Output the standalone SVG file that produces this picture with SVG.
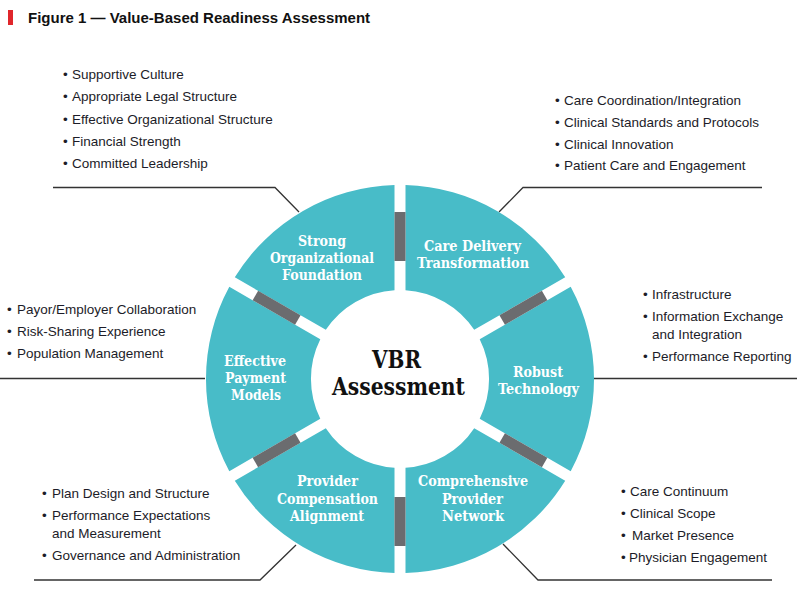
<svg xmlns="http://www.w3.org/2000/svg" width="800" height="599" viewBox="0 0 800 599">
<style>
.seg{fill:#48bcc8}
.bar{fill:#6b6c6f}
.lbl{font-family:"DejaVu Serif","Liberation Serif",serif;font-weight:bold;font-size:15px;fill:#ffffff}
.ctr{font-family:"DejaVu Serif","Liberation Serif",serif;font-weight:bold;font-size:25px;fill:#111111}
.li{font-family:"Liberation Sans",Arial,sans-serif;font-size:13.5px;fill:#1c1c28}
.ttl{font-family:"Liberation Sans",Arial,sans-serif;font-weight:bold;font-size:15px;fill:#111111}
.ld{fill:none;stroke:#333333;stroke-width:1.3}
</style>
<rect width="800" height="599" fill="#ffffff"/>
<g id="title">
<rect x="8" y="10" width="5" height="15" fill="#e0262b"/>
<text class="ttl" x="28" y="23">Figure 1 — Value-Based Readiness Assessment</text>
</g>
<g id="connectors">
<polyline class="ld" points="53,187.5 275,187.5 299,212"/>
<polyline class="ld" points="762,187.5 523,187.5 499,212"/>
<polyline class="ld" points="0,378.5 205,378.5"/>
<polyline class="ld" points="593,378.5 797,378.5"/>
<polyline class="ld" points="34,580 260,580 296,545"/>
<polyline class="ld" points="772,580 538,580 503,544"/>
</g>
<g id="seg-strong">
<path class="seg" d="M394.5,185.1 A194,194 0 0 0 234.8,277.3 L325.8,329.8 A89,89 0 0 1 394.5,290.2 Z"/>
<text class="lbl" x="298" y="246" textLength="48" lengthAdjust="spacingAndGlyphs">Strong</text>
<text class="lbl" x="270" y="263" textLength="104" lengthAdjust="spacingAndGlyphs">Organizational</text>
<text class="lbl" x="282" y="280" textLength="80" lengthAdjust="spacingAndGlyphs">Foundation</text>
</g>
<g id="seg-care">
<path class="seg" d="M565.2,277.3 A194,194 0 0 0 405.5,185.1 L405.5,290.2 A89,89 0 0 1 474.2,329.8 Z"/>
<text class="lbl" x="424" y="251" textLength="97" lengthAdjust="spacingAndGlyphs">Care Delivery</text>
<text class="lbl" x="417" y="268" textLength="112" lengthAdjust="spacingAndGlyphs">Transformation</text>
</g>
<g id="seg-payment">
<path class="seg" d="M229.3,286.8 A194,194 0 0 0 229.3,471.2 L320.3,418.7 A89,89 0 0 1 320.3,339.3 Z"/>
<text class="lbl" x="224" y="366" textLength="62" lengthAdjust="spacingAndGlyphs">Effective</text>
<text class="lbl" x="225" y="383" textLength="61" lengthAdjust="spacingAndGlyphs">Payment</text>
<text class="lbl" x="231" y="400" textLength="50" lengthAdjust="spacingAndGlyphs">Models</text>
</g>
<g id="seg-technology">
<path class="seg" d="M570.7,471.2 A194,194 0 0 0 570.7,286.8 L479.7,339.3 A89,89 0 0 1 479.7,418.7 Z"/>
<text class="lbl" x="513" y="377" textLength="50" lengthAdjust="spacingAndGlyphs">Robust</text>
<text class="lbl" x="498" y="394" textLength="81" lengthAdjust="spacingAndGlyphs">Technology</text>
</g>
<g id="seg-compensation">
<path class="seg" d="M234.8,480.7 A194,194 0 0 0 394.5,572.9 L394.5,467.8 A89,89 0 0 1 325.8,428.2 Z"/>
<text class="lbl" x="297" y="486" textLength="61" lengthAdjust="spacingAndGlyphs">Provider</text>
<text class="lbl" x="277" y="504" textLength="101" lengthAdjust="spacingAndGlyphs">Compensation</text>
<text class="lbl" x="290" y="521" textLength="74" lengthAdjust="spacingAndGlyphs">Alignment</text>
</g>
<g id="seg-network">
<path class="seg" d="M405.5,572.9 A194,194 0 0 0 565.2,480.7 L474.2,428.2 A89,89 0 0 1 405.5,467.8 Z"/>
<text class="lbl" x="418" y="486" textLength="110" lengthAdjust="spacingAndGlyphs">Comprehensive</text>
<text class="lbl" x="442" y="504" textLength="61" lengthAdjust="spacingAndGlyphs">Provider</text>
<text class="lbl" x="442" y="521" textLength="62" lengthAdjust="spacingAndGlyphs">Network</text>
</g>
<g id="bars">
<rect class="bar" x="394.5" y="212" width="11" height="49"/>
<rect class="bar" x="394.5" y="212" width="11" height="49" transform="rotate(60 400 379)"/>
<rect class="bar" x="394.5" y="212" width="11" height="49" transform="rotate(120 400 379)"/>
<rect class="bar" x="394.5" y="212" width="11" height="49" transform="rotate(180 400 379)"/>
<rect class="bar" x="394.5" y="212" width="11" height="49" transform="rotate(240 400 379)"/>
<rect class="bar" x="394.5" y="212" width="11" height="49" transform="rotate(300 400 379)"/>
</g>
<g id="center">
<text class="ctr" x="372" y="368" textLength="49" lengthAdjust="spacingAndGlyphs">VBR</text>
<text class="ctr" x="332" y="395" textLength="133" lengthAdjust="spacingAndGlyphs">Assessment</text>
</g>
<g id="list-foundation" class="li">
<text class="li" y="79"><tspan x="63">•</tspan><tspan x="72">Supportive Culture</tspan></text>
<text class="li" y="101"><tspan x="63">•</tspan><tspan x="72">Appropriate Legal Structure</tspan></text>
<text class="li" y="123.5"><tspan x="63">•</tspan><tspan x="72">Effective Organizational Structure</tspan></text>
<text class="li" y="145.5"><tspan x="63">•</tspan><tspan x="72">Financial Strength</tspan></text>
<text class="li" y="168"><tspan x="63">•</tspan><tspan x="72">Committed Leadership</tspan></text>
</g>
<g id="list-care">
<text class="li" y="105"><tspan x="555">•</tspan><tspan x="564">Care Coordination/Integration</tspan></text>
<text class="li" y="127"><tspan x="555">•</tspan><tspan x="564">Clinical Standards and Protocols</tspan></text>
<text class="li" y="148.5"><tspan x="555">•</tspan><tspan x="564">Clinical Innovation</tspan></text>
<text class="li" y="170"><tspan x="555">•</tspan><tspan x="564">Patient Care and Engagement</tspan></text>
</g>
<g id="list-payment">
<text class="li" y="314"><tspan x="7">•</tspan><tspan x="17">Payor/Employer Collaboration</tspan></text>
<text class="li" y="336"><tspan x="7">•</tspan><tspan x="17">Risk-Sharing Experience</tspan></text>
<text class="li" y="358"><tspan x="7">•</tspan><tspan x="17">Population Management</tspan></text>
</g>
<g id="list-technology">
<text class="li" y="299"><tspan x="643">•</tspan><tspan x="652">Infrastructure</tspan></text>
<text class="li" y="321"><tspan x="643">•</tspan><tspan x="652">Information Exchange</tspan></text>
<text class="li" y="339"><tspan x="652">and Integration</tspan></text>
<text class="li" y="361"><tspan x="643">•</tspan><tspan x="652">Performance Reporting</tspan></text>
</g>
<g id="list-compensation">
<text class="li" y="498"><tspan x="42">•</tspan><tspan x="52">Plan Design and Structure</tspan></text>
<text class="li" y="520"><tspan x="42">•</tspan><tspan x="52">Performance Expectations</tspan></text>
<text class="li" y="538"><tspan x="52">and Measurement</tspan></text>
<text class="li" y="560"><tspan x="42">•</tspan><tspan x="52">Governance and Administration</tspan></text>
</g>
<g id="list-network">
<text class="li" y="496"><tspan x="621">•</tspan><tspan x="630">Care Continuum</tspan></text>
<text class="li" y="517.5"><tspan x="621">•</tspan><tspan x="630">Clinical Scope</tspan></text>
<text class="li" y="539.5"><tspan x="621">•</tspan><tspan x="632">Market Presence</tspan></text>
<text class="li" y="562"><tspan x="621">•</tspan><tspan x="629">Physician Engagement</tspan></text>
</g>
</svg>
